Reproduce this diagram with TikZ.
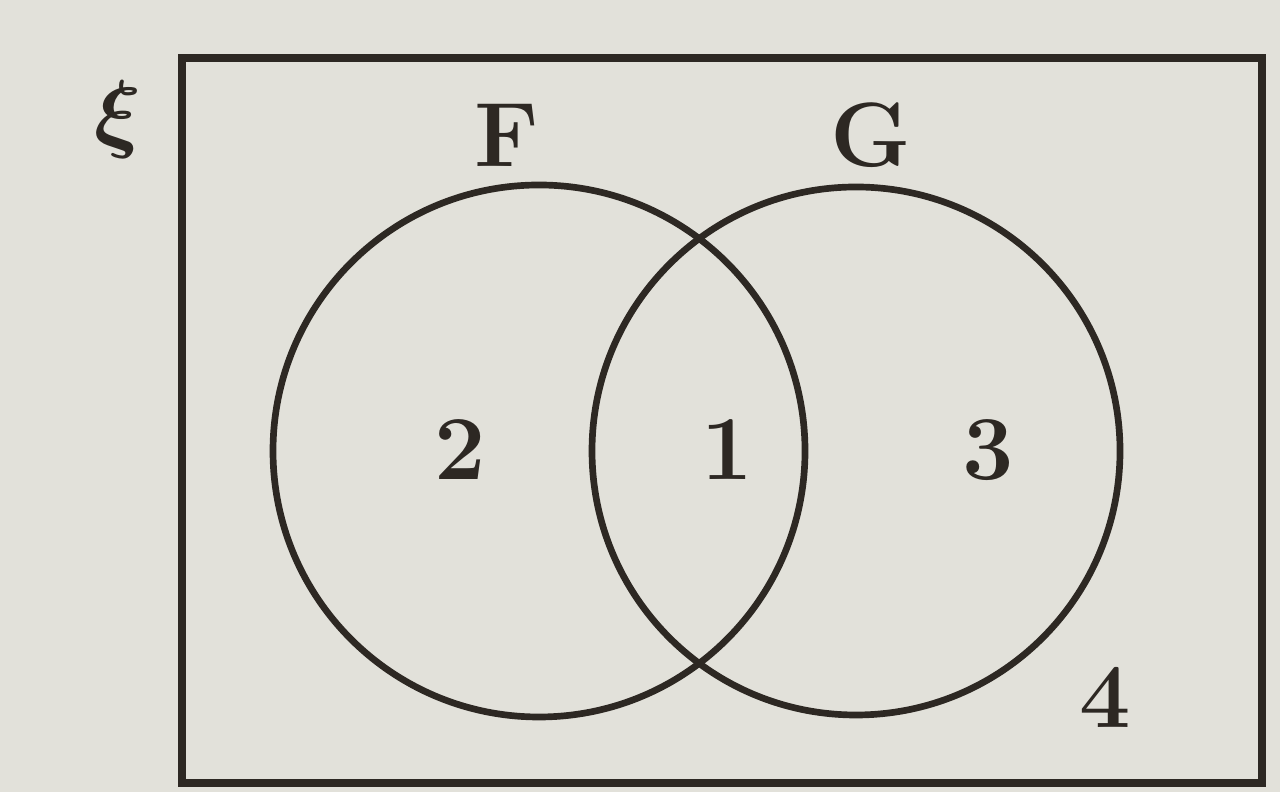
\documentclass[tikz,border=0pt]{standalone}
\definecolor{paper}{RGB}{226,225,218}
\definecolor{ink}{RGB}{45,40,35}
\begin{document}
\begin{tikzpicture}[lbl/.style={text=ink,font=\fontsize{26}{30}\selectfont\bfseries}]
\fill[paper] (0,0) rectangle (12.8,7.92);
\draw[ink,line width=2.2pt] (1.82,0.09) rectangle (12.62,7.34);
\node[text=ink,font=\fontsize{36}{40}\selectfont\boldmath] (xi) at (1.18,6.72) {$\xi$};

\draw[ink,line width=1.9pt] (5.39,3.41) circle (2.66);
\draw[ink,line width=1.9pt] (8.56,3.41) circle (2.64);

\node[lbl] (F) at (5.07,6.57) {F};
\node[lbl] (G) at (8.71,6.57) {G};
\node[lbl] (two) at (4.60,3.42) {2};
\node[lbl] (one) at (7.27,3.42) {1};
\node[lbl] (three) at (9.88,3.42) {3};
\node[lbl] (four) at (11.05,0.95) {4};
\end{tikzpicture}
\end{document}
